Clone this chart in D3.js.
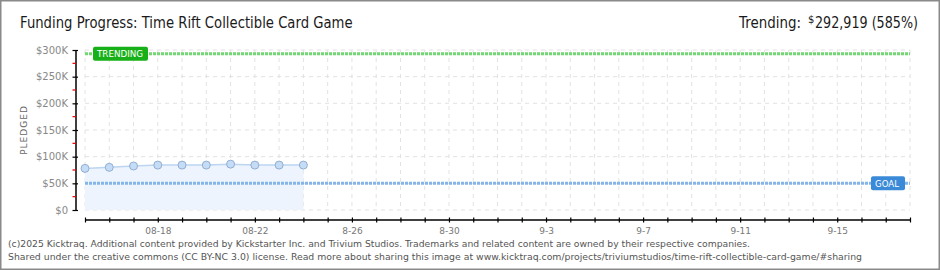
<!DOCTYPE html>
<html><head><meta charset="utf-8">
<script src="https://cdn.jsdelivr.net/npm/d3@7"></script>
<style>html,body{margin:0;padding:0;background:#fff;}svg{display:block;}</style>
</head><body>
<svg id="c" width="940" height="270"></svg>
<script>
const dates = ["2025-08-15","2025-08-16","2025-08-17","2025-08-18","2025-08-19","2025-08-20","2025-08-21","2025-08-22","2025-08-23","2025-08-24"];
const pledged = [78000, 80000, 82500, 84200, 84200, 84200, 86000, 84200, 84200, 84200];
const goal = 50000;
const trending = 292919;
const trendingPct = 585;
const domainDates = ["2025-08-15","2025-09-18"];
const xLabelDates = ["2025-08-18","2025-08-22","2025-08-26","2025-08-30","2025-09-03","2025-09-07","2025-09-11","2025-09-15"];
const xLabels = ["08-18","08-22","8-26","8-30","9-3","9-7","9-11","9-15"];
const yTicks = [0, 50000, 100000, 150000, 200000, 250000, 300000];
const yTickLabels = ["$0","$50K","$100K","$150K","$200K","$250K","$300K"];
const yMinor = [25000, 75000, 125000, 175000, 225000, 275000];

const parse = d3.timeParse("%Y-%m-%d");
const svg = d3.select("#c");
const font = "'DejaVu Sans', sans-serif";

const x = d3.scaleTime().domain(domainDates.map(parse)).range([85, 910]);
const y = d3.scaleLinear().domain([0, 300000]).range([210, 50]);
const days = d3.timeDay.range(parse(domainDates[0]), d3.timeDay.offset(parse(domainDates[1]), 1));
const labelMap = new Map(xLabelDates.map((d, i) => [+parse(d), xLabels[i]]));

// frame
svg.append("rect").attr("x", 0.75).attr("y", 0.75).attr("width", 938.5).attr("height", 268.5)
  .attr("fill", "#fff").attr("stroke", "#8a8a8a").attr("stroke-width", 1.5);

// grid
const g = svg.append("g");
g.selectAll("line.v").data(days).join("line")
  .attr("x1", d => x(d)).attr("x2", d => x(d)).attr("y1", y(300000)).attr("y2", y(0))
  .attr("stroke", "#e2e2e2").attr("stroke-dasharray", "4,4");
g.selectAll("line.h").data(yTicks).join("line")
  .attr("x1", x.range()[0]).attr("x2", x.range()[1]).attr("y1", d => y(d)).attr("y2", d => y(d))
  .attr("stroke", "#e2e2e2").attr("stroke-dasharray", "4,4");

// area + line
const pts = dates.map((d, i) => ({ d: parse(d), v: pledged[i] }));
svg.append("path").datum(pts)
  .attr("d", d3.area().x(p => x(p.d)).y0(y(0)).y1(p => y(p.v)))
  .attr("fill", "#edf4fd");
svg.append("path").datum(pts)
  .attr("d", d3.line().x(p => x(p.d)).y(p => y(p.v)))
  .attr("fill", "none").attr("stroke", "#bcd5f1").attr("stroke-width", 1.5);

// goal & trending lines
svg.append("line").attr("x1", x.range()[0]).attr("x2", x.range()[1])
  .attr("y1", y(goal)).attr("y2", y(goal))
  .attr("stroke", "#85b5e8").attr("stroke-width", 3).attr("stroke-dasharray", "3,1");
svg.append("line").attr("x1", x.range()[0]).attr("x2", x.range()[1])
  .attr("y1", y(trending)).attr("y2", y(trending))
  .attr("stroke", "#72d672").attr("stroke-width", 3).attr("stroke-dasharray", "3,1");

// points
svg.selectAll("circle.p").data(pts).join("circle")
  .attr("cx", p => x(p.d)).attr("cy", p => y(p.v)).attr("r", 4)
  .attr("fill", "#c5dcf6").attr("stroke", "#92aed0").attr("stroke-width", 1);

// labels
function tag(cx0, cy, w, fill, txt, tl) {
  svg.append("rect").attr("x", cx0).attr("y", cy - 7).attr("width", w).attr("height", 14)
    .attr("rx", 2).attr("fill", fill);
  svg.append("text").attr("x", cx0 + 4).attr("y", cy + 3.5)
    .attr("font-family", font).attr("font-size", 9.5).attr("fill", "#fff")
    .attr("textLength", tl).attr("lengthAdjust", "spacingAndGlyphs").text(txt);
}
tag(93, y(trending), 55, "#18b018", "TRENDING", 46);
tag(871, y(goal), 34, "#3b8ad8", "GOAL", 24);

// x axis
const xAxis = d3.axisBottom(x).tickValues(days).tickSize(2.5).tickPadding(5)
  .tickFormat(d => labelMap.get(+d) || "");
const xg = svg.append("g").attr("transform", "translate(0,220)").call(xAxis);
xg.select(".domain").attr("stroke", "#000").attr("stroke-width", 1.5).attr("d", `M${x.range()[0]},0H${x.range()[1]}`);
xg.selectAll(".tick line").attr("y1", -2.5).attr("stroke", "#000").attr("stroke-width", 1.2);
xg.selectAll(".tick text").attr("font-family", font).attr("font-size", 9).attr("fill", "#777");

// y axis
const yAxis = d3.axisLeft(y).tickValues(yTicks).tickSize(3).tickPadding(5)
  .tickFormat((d, i) => yTickLabels[i]);
const yg = svg.append("g").attr("transform", "translate(76,0)").call(yAxis);
yg.select(".domain").attr("stroke", "#000").attr("stroke-width", 1.5).attr("d", `M0,${y(300000)}V${y(0)}`);
yg.selectAll(".tick line").attr("x2", 2).attr("x1", -3.5).attr("stroke", "#000").attr("stroke-width", 1.2);
yg.selectAll(".tick text").attr("font-family", font).attr("font-size", 10).attr("fill", "#888");
yg.selectAll("line.minor").data(yMinor).join("line")
  .attr("x1", -3.5).attr("x2", 0).attr("y1", d => y(d)).attr("y2", d => y(d))
  .attr("stroke", "#e00000").attr("stroke-width", 1.2);

svg.append("text").attr("transform", "translate(27,130) rotate(-90)").attr("text-anchor", "middle")
  .attr("font-family", font).attr("font-size", 9).attr("fill", "#666").attr("letter-spacing", 1)
  .text("PLEDGED");

// fitted text helper: scales horizontally to target width
function fitText(x0, y0, size, width, txt) {
  const t = svg.append("text").attr("font-family", font).attr("font-size", size)
    .attr("fill", "#1a1a1a").text(txt);
  const w = t.node().getComputedTextLength();
  t.attr("transform", `translate(${x0},${y0}) scale(${width / w},1)`);
  return t;
}

// title
fitText(20, 28, 15.5, 333, "Funding Progress: Time Rift Collectible Card Game");
fitText(739, 28, 15.5, 62, "Trending:");
svg.append("text").attr("x", 808).attr("y", 23)
  .attr("font-family", font).attr("font-size", 10).attr("fill", "#1a1a1a").text("$");
fitText(815, 28, 15.5, 103, d3.format(",")(trending) + " (" + trendingPct + "%)");

// footer
svg.append("text").attr("x", 8).attr("y", 246.5).attr("font-family", font).attr("font-size", 9.5)
  .attr("fill", "#555").attr("textLength", 742).attr("lengthAdjust", "spacingAndGlyphs")
  .text("(c)2025 Kicktraq. Additional content provided by Kickstarter Inc. and Trivium Studios. Trademarks and related content are owned by their respective companies.");
svg.append("text").attr("x", 8).attr("y", 259.5).attr("font-family", font).attr("font-size", 9.5)
  .attr("fill", "#555").attr("textLength", 854).attr("lengthAdjust", "spacingAndGlyphs")
  .text("Shared under the creative commons (CC BY-NC 3.0) license. Read more about sharing this image at www.kicktraq.com/projects/triviumstudios/time-rift-collectible-card-game/#sharing");
</script>
</body></html>
